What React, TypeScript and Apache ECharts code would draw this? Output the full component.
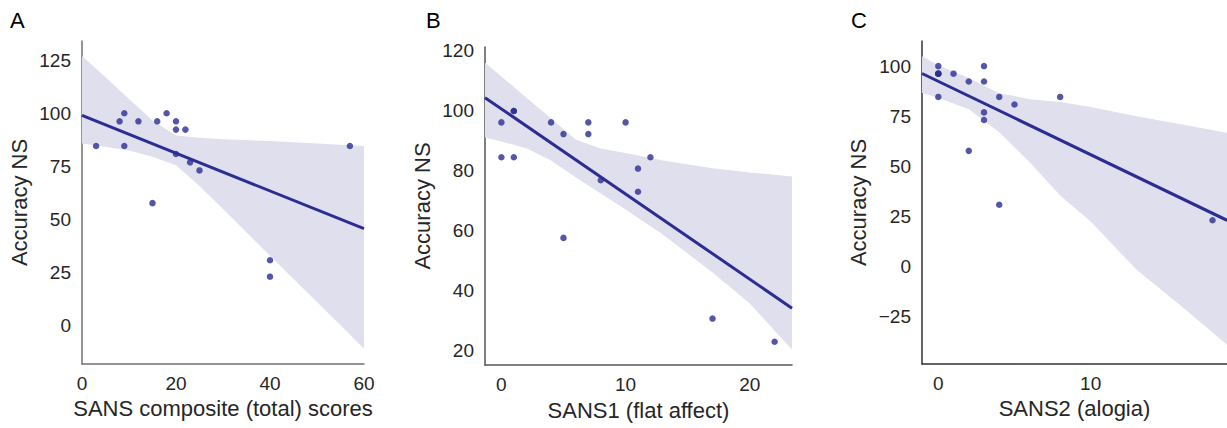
import React, { useEffect, useRef } from "react";
import * as echarts from "echarts";

// Participants (same order in every array)
const accuracy = [100, 100, 96.2, 96.2, 96.2, 96.2, 92.3, 92.3, 84.6, 84.6, 84.6, 80.8, 76.9, 73.1, 57.7, 30.8, 23.1];
const sansTotal = [9, 18, 8, 12, 16, 20, 20, 22, 3, 9, 57, 20, 23, 25, 15, 40, 40];
const sans1 = [1, 1, 0, 4, 7, 10, 5, 7, 0, 1, 12, 11, 8, 11, 5, 17, 22];
const sans2 = [0, 3, 0, 0, 0, 1, 2, 3, 0, 4, 8, 5, 3, 3, 2, 4, 18];

// Bootstrap confidence bands
const bandAx = [0, 5, 10, 15, 20, 25, 30, 40, 50, 60];
const bandAhi = [127, 116.9, 106.7, 96.6, 89.5, 88.5, 87.8, 86.9, 85.8, 84.6];
const bandAlo = [85.8, 84.2, 82.5, 79.5, 75.5, 65.8, 55, 33, 11.2, -10.8];

const bandBx = [-1.32, 0, 2, 4, 6, 8, 10, 13, 17, 20, 23.4];
const bandBhi = [116.1, 111.5, 104.5, 97.5, 90.4, 87.5, 86.0, 83.5, 80.9, 79.5, 78.2];
const bandBlo = [91.2, 89.8, 87.6, 83.5, 77.8, 72.5, 67.2, 58.8, 46.2, 35.8, 20.5];

const bandCx = [-1.07, 0, 2, 4, 6, 8, 10, 13, 16, 18.95];
const bandChi = [104.9, 100.4, 94, 86.5, 83.5, 82.1, 79.6, 75, 70.8, 66.8];
const bandClo = [86.6, 84.2, 78.5, 67, 52, 35.5, 22.5, -1.5, -20, -39];

// Tick labels
const ticksAx = [0, 20, 40, 60];
const ticksAy = [0, 25, 50, 75, 100, 125];
const ticksBx = [0, 10, 20];
const ticksBy = [20, 40, 60, 80, 100, 120];
const ticksCx = [0, 10];
const ticksCy = [-25, 0, 25, 50, 75, 100];

const panelLetters = ["A", "B", "C"];
const xNames = ["SANS composite (total) scores", "SANS1 (flat affect)", "SANS2 (alogia)"];
const yName = "Accuracy NS";

const BASE = "#2c2c92";
const BAND = "#dfdfee";
const TXT = "#262626";
const FONT = "Liberation Sans, Arial, sans-serif";

function fit(xs: number[], ys: number[]) {
  const n = xs.length;
  const mx = xs.reduce((a, b) => a + b, 0) / n;
  const my = ys.reduce((a, b) => a + b, 0) / n;
  let sxy = 0, sxx = 0;
  for (let i = 0; i < n; i++) {
    sxy += (xs[i] - mx) * (ys[i] - my);
    sxx += (xs[i] - mx) * (xs[i] - mx);
  }
  const b = sxy / sxx;
  return { a: my - b * mx, b };
}

export default function App() {
  const ref = useRef<HTMLDivElement>(null);
  useEffect(() => {
    if (!ref.current) return;
    const chart = echarts.init(ref.current, undefined, { renderer: "svg" });

    const panels = [
      { xs: sansTotal, grid: { left: 82, top: 41, width: 282, height: 323 }, xr: [0, 60], yr: [-18, 134], tx: ticksAx, ty: ticksAy, bx: bandAx, bh: bandAhi, bl: bandAlo, axisColor: "#707070", nameGapX: 33, nameGapY: 52 },
      { xs: sans1, grid: { left: 485, top: 47, width: 307, height: 318 }, xr: [-1.32, 23.4], yr: [15.33, 121.33], tx: ticksBx, ty: ticksBy, bx: bandBx, bh: bandBhi, bl: bandBlo, axisColor: "#555555", nameGapX: 34, nameGapY: 52 },
      { xs: sans2, grid: { left: 922, top: 41, width: 305, height: 323 }, xr: [-1.07, 18.95], yr: [-48.6, 112.5], tx: ticksCx, ty: ticksCy, bx: bandCx, bh: bandChi, bl: bandClo, axisColor: "#333333", nameGapX: 33, nameGapY: 53 },
    ];

    const grids: any[] = [];
    const xAxes: any[] = [];
    const yAxes: any[] = [];
    const series: any[] = [];

    panels.forEach((p, i) => {
      grids.push({ ...p.grid, containLabel: false });
      xAxes.push({
        type: "value", gridIndex: i, min: p.xr[0], max: p.xr[1],
        name: xNames[i], nameLocation: "middle", nameGap: p.nameGapX,
        nameTextStyle: { fontSize: 22, color: TXT, fontFamily: FONT },
        axisLine: { show: true, onZero: false, lineStyle: { color: p.axisColor, width: 1.5 } },
        axisTick: { show: false },
        splitLine: { show: false },
        axisLabel: { customValues: p.tx, fontSize: 19, color: TXT, fontFamily: FONT, margin: 10 },
      });
      yAxes.push({
        type: "value", gridIndex: i, min: p.yr[0], max: p.yr[1],
        name: yName, nameLocation: "middle", nameGap: p.nameGapY,
        nameTextStyle: { fontSize: 22, color: TXT, fontFamily: FONT },
        axisLine: { show: true, onZero: false, lineStyle: { color: p.axisColor, width: 1.5 } },
        axisTick: { show: false },
        splitLine: { show: false },
        axisLabel: {
          customValues: p.ty, fontSize: 19, color: TXT, fontFamily: FONT, margin: 11,
          formatter: (v: number) => String(v).replace("-", "\u2212"),
        },
      });
      const bx = p.bx, bh = p.bh, bl = p.bl;
      series.push({
        type: "custom", xAxisIndex: i, yAxisIndex: i, silent: true, z: 1, clip: true,
        data: [[bx[0], bl[0]]],
        renderItem: (_params: any, api: any) => {
          const pts: number[][] = [];
          for (let k = 0; k < bx.length; k++) pts.push(api.coord([bx[k], bh[k]]));
          for (let k = bx.length - 1; k >= 0; k--) pts.push(api.coord([bx[k], bl[k]]));
          return { type: "polygon", shape: { points: pts }, style: { fill: BAND } };
        },
      });
      series.push({
        type: "scatter", xAxisIndex: i, yAxisIndex: i, z: 2,
        symbolSize: 6.5,
        itemStyle: { color: BASE, opacity: 0.8 },
        data: p.xs.map((x, k) => [x, accuracy[k]]),
      });
      const f = fit(p.xs, accuracy);
      series.push({
        type: "line", xAxisIndex: i, yAxisIndex: i, z: 3, symbol: "none",
        lineStyle: { color: BASE, width: 3 },
        data: [[p.xr[0], f.a + f.b * p.xr[0]], [p.xr[1], f.a + f.b * p.xr[1]]],
      });
    });

    const letterX = [10, 426, 851];
    chart.setOption({
      animation: false,
      grid: grids,
      xAxis: xAxes,
      yAxis: yAxes,
      series,
      graphic: panelLetters.map((t, i) => ({
        type: "text", left: letterX[i], top: 9,
        style: { text: t, fontSize: 22, fill: "#000", fontFamily: FONT },
      })),
    });
    return () => chart.dispose();
  }, []);
  return <div ref={ref} style={{ position: "absolute", left: 0, top: 0, width: 1227, height: 428 }} />;
}
